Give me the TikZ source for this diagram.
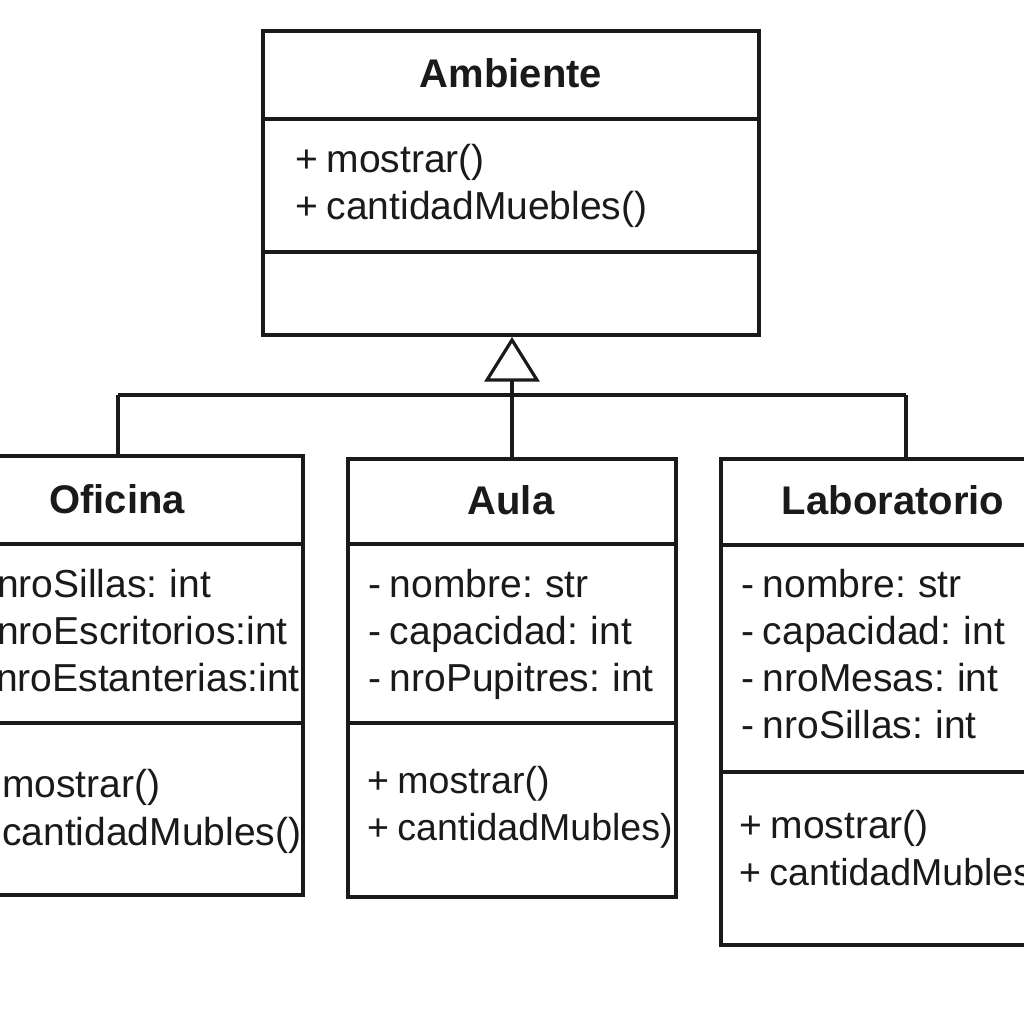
\documentclass[tikz,border=0pt]{standalone}
\usepackage{fontspec}
\setmainfont[WordSpace=0.8]{Liberation Sans}
\definecolor{ink}{HTML}{1A1A1A}
\begin{document}
\begin{tikzpicture}[x=1pt,y=-1pt,
  ln/.style={draw=ink,line width=3.2pt},
  clsbox/.style={ln,rectangle,inner sep=0pt},
  txt/.style={anchor=base west,inner sep=0pt,text=ink,font=\fontsize{39}{47}\selectfont},
  txts/.style={txt,font=\fontsize{37.5}{47}\selectfont},
  ttl/.style={anchor=base,inner sep=0pt,text=ink,font=\fontsize{40}{48}\selectfont\bfseries}]
\useasboundingbox (0,0) rectangle (1024,1024);
\fill[white] (0,0) rectangle (1024,1024);

% Ambiente
\node[clsbox,minimum width=496pt,minimum height=304pt] (amb) at (511,183) {};
\draw[ln] (263,119) -- (759,119);
\draw[ln] (263,252) -- (759,252);
\node[ttl] (ambT) at (511,88) {Ambiente};
\node[txt] (ambM1) at (295,173) {+ mostrar()};
\node[txt] (ambM2) at (295,220) {+ cantidadMuebles()};

% Oficina
\node[clsbox,minimum width=333pt,minimum height=439pt] (ofi) at (136.5,675.5) {};
\draw[ln] (-30,544) -- (303,544);
\draw[ln] (-30,723) -- (303,723);
\node[ttl] (ofiT) at (117,513) {Oficina};
\node[txt] (ofiA1) at (-3,597) {nroSillas: int};
\node[txt] (ofiA2) at (-3,644) {nroEscritorios:int};
\node[txt] (ofiA3) at (-4,691) {nroEstanterias:int};
\node[txt] (ofiM1) at (2,797) {mostrar()};
\node[txt] (ofiM2) at (2,845) {cantidadMubles()};

% Aula
\node[clsbox,minimum width=328pt,minimum height=438pt] (aula) at (512,678) {};
\draw[ln] (348,544) -- (676,544);
\draw[ln] (348,723) -- (676,723);
\node[ttl] (aulaT) at (511,514) {Aula};
\node[txt] (aulaA1) at (368,597) {- nombre: str};
\node[txt] (aulaA2) at (368,644) {- capacidad: int};
\node[txt] (aulaA3) at (368,691) {- nroPupitres: int};
\node[txts] (aulaM1) at (367,793) {+ mostrar()};
\node[txts] (aulaM2) at (367,840) {+ cantidadMubles)};

% Laboratorio
\node[clsbox,minimum width=339pt,minimum height=486pt] (lab) at (890.5,702) {};
\draw[ln] (721,545) -- (1060,545);
\draw[ln] (721,772) -- (1060,772);
\node[ttl] (labT) at (893,514) {Laboratorio};
\node[txt] (labA1) at (741,597) {- nombre: str};
\node[txt] (labA2) at (741,644) {- capacidad: int};
\node[txt] (labA3) at (741,691) {- nroMesas: int};
\node[txt] (labA4) at (741,738) {- nroSillas: int};
\node[txt] (labM1) at (739,838) {+ mostrar()};
\node[txts] (labM2) at (739,885) {+ cantidadMubles};

% Generalization
\coordinate (tip) at (512,340);
\coordinate (tb) at (512,380);
\coordinate (jl) at (118,395);
\coordinate (jr) at (906,395);
\draw[ln] (aula.north) -- (tb);
\draw[ln] (jl) -- (jr);
\draw[ln] (jl) -- (jl |- ofi.north);
\draw[ln] (jr) -- (jr |- lab.north);
\draw[ln,fill=white,line join=miter] (tip) -- ([xshift=25pt]tb) -- ([xshift=-25pt]tb) -- cycle;
\end{tikzpicture}
\end{document}
